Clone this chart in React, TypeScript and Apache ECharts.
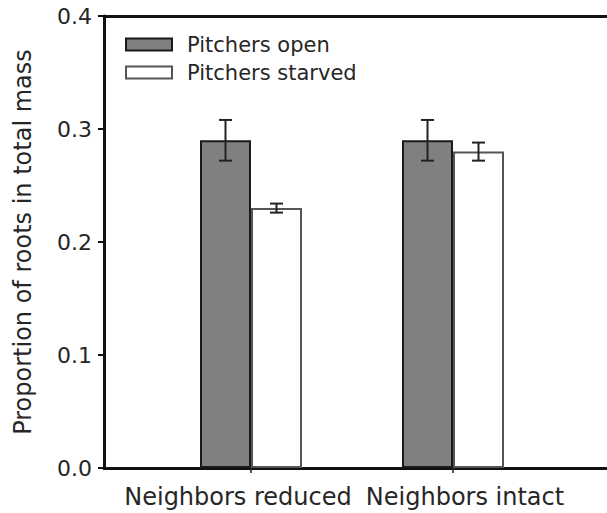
import React, { useEffect, useRef } from "react";
import * as echarts from "echarts";

const categories = ["Neighbors reduced", "Neighbors intact"];
const seriesNames = ["Pitchers open", "Pitchers starved"];
const openValues = [0.29, 0.29];
const openErrors = [0.018, 0.018];
const starvedValues = [0.23, 0.28];
const starvedErrors = [0.004, 0.008];

const FONT = "DejaVu Sans";
const TEXT = "#262626";
const BAR_W = 51;

export default function App() {
  const ref = useRef<HTMLDivElement>(null);
  useEffect(() => {
    if (!ref.current) return;
    const chart = echarts.init(ref.current, null, { renderer: "svg" });

    const errData: number[][] = [];
    [openValues, starvedValues].forEach((vals, s) => {
      const errs = s === 0 ? openErrors : starvedErrors;
      vals.forEach((v, i) => errData.push([i, v - errs[i], v + errs[i], s]));
    });

    const option: any = {
      animation: false,
      textStyle: { fontFamily: FONT, color: TEXT },
      grid: [
        { left: 104, right: -20, top: 16, bottom: 45 },
        { left: 150, width: 404, top: 16, bottom: 45 },
      ],
      legend: {
        data: seriesNames,
        orient: "vertical",
        left: 120,
        top: 29,
        itemWidth: 46,
        itemHeight: 12,
        itemGap: 7,
        icon: "rect",
        textStyle: { fontFamily: FONT, fontSize: 21, color: TEXT, padding: [0, 0, 0, 10] },
      },
      xAxis: [
        {
          gridIndex: 0, type: "value", min: 0, max: 1, position: "bottom",
          axisLine: { show: true, lineStyle: { color: "#111", width: 3 } },
          axisTick: { show: false }, axisLabel: { show: false }, splitLine: { show: false },
        },
        {
          gridIndex: 0, type: "value", min: 0, max: 1, position: "top",
          axisLine: { show: true, lineStyle: { color: "#111", width: 3 } },
          axisTick: { show: false }, axisLabel: { show: false }, splitLine: { show: false },
        },
        {
          gridIndex: 1, type: "category", data: categories, position: "bottom",
          axisLine: { show: false },
          axisTick: { show: true, alignWithLabel: true, length: 5, lineStyle: { color: "#222", width: 1.5 } },
          axisLabel: {
            interval: 0, fontFamily: FONT, fontSize: 24, color: TEXT, margin: 17,
            formatter: (v: string, i: number) => (i === 0 ? "{a|" + v + "}" : "{b|" + v + "}"),
            rich: {
              a: { fontFamily: FONT, fontSize: 24, color: TEXT, padding: [0, 26, 0, 0] },
              b: { fontFamily: FONT, fontSize: 24, color: TEXT, padding: [0, 0, 0, 24] },
            },
          },
          splitLine: { show: false },
        },
      ],
      yAxis: [
        {
          gridIndex: 0, type: "value", min: 0, max: 0.4, interval: 0.1,
          axisLine: { show: true, lineStyle: { color: "#111", width: 3 } },
          axisTick: { show: true, length: 6, lineStyle: { color: "#111", width: 2 } },
          axisLabel: {
            fontFamily: FONT, fontSize: 22, color: TEXT, margin: 12,
            formatter: (v: number) => v.toFixed(1),
          },
          splitLine: { show: false },
          name: "Proportion of roots in total mass",
          nameLocation: "middle",
          nameGap: 69,
          nameTextStyle: { fontFamily: FONT, fontSize: 24, color: TEXT },
        },
        { gridIndex: 1, type: "value", min: 0, max: 0.4, interval: 0.1, show: false },
      ],
      series: [
        {
          name: seriesNames[0], type: "bar", xAxisIndex: 2, yAxisIndex: 1,
          data: openValues, barWidth: BAR_W, barGap: "0%",
          itemStyle: { color: "#808080", borderColor: "#1a1a1a", borderWidth: 2 },
        },
        {
          name: seriesNames[1], type: "bar", xAxisIndex: 2, yAxisIndex: 1,
          data: starvedValues, barWidth: BAR_W, barGap: "0%",
          itemStyle: { color: "#ffffff", borderColor: "#555555", borderWidth: 2 },
        },
        {
          type: "custom", xAxisIndex: 2, yAxisIndex: 1, z: 10,
          data: errData,
          encode: { x: 0, y: [1, 2] },
          renderItem: (params: any, api: any) => {
            const s = api.value(3);
            const off = (s === 0 ? -1 : 1) * BAR_W / 2;
            const lo = api.coord([api.value(0), api.value(1)]);
            const hi = api.coord([api.value(0), api.value(2)]);
            const x = lo[0] + off;
            const cap = 6.5;
            const st = { stroke: "#222", lineWidth: 2 };
            return {
              type: "group",
              children: [
                { type: "line", shape: { x1: x, y1: lo[1], x2: x, y2: hi[1] }, style: st },
                { type: "line", shape: { x1: x - cap, y1: lo[1], x2: x + cap, y2: lo[1] }, style: st },
                { type: "line", shape: { x1: x - cap, y1: hi[1], x2: x + cap, y2: hi[1] }, style: st },
              ],
            };
          },
        },
      ],
    };
    chart.setOption(option);
    return () => chart.dispose();
  }, []);
  return <div ref={ref} style={{ width: 607, height: 513, position: "absolute", left: 0, top: 0 }} />;
}
